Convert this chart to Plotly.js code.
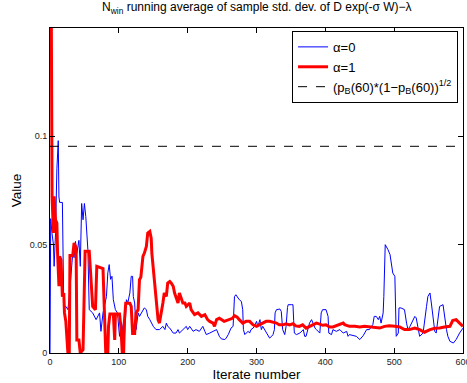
<!DOCTYPE html>
<html>
<head>
<meta charset="utf-8">
<script src="https://cdn.plot.ly/plotly-3.0.1.min.js"></script>
<style>
  html, body { margin: 0; padding: 0; background: #fff; }
  #chart { width: 467px; height: 383px; }
</style>
</head>
<body>
<div id="chart"></div>
<script>
// alpha = 0 (thin blue)
const blueIter = [0,1,3,5,6,8,10,12,13,14,18,19,20,23,26,28,31,33,35,37,39,42,44,46,48,50,52,55,57,62,67,72,74,77,82,84,86,88,90,92,95,98,101,104,108,111,113,116,118,120,121,123,125,128,130,133,135,137,140,142,145,147,150,154,159,164,167,169,171,174,179,183,186,188,193,198,200,203,208,212,217,222,225,227,232,237,242,246,249,254,256,259,261,263,266,268,270,273,275,278,280,281,283,285,288,290,292,295,297,300,302,305,307,309,312,314,317,319,322,324,326,327,329,334,336,338,341,343,345,346,351,353,354,355,358,363,368,370,372,375,377,380,382,385,387,392,394,396,401,404,405,409,411,416,421,426,431,433,435,440,445,450,455,460,464,469,471,474,477,479,481,484,485,487,489,491,494,496,498,501,502,503,506,507,510,515,518,520,523,525,527,530,532,535,537,542,544,547,549,552,554,557,559,561,564,566,571,573,576,578,581,586,590,595,598,600];
const blueVal = [0,0.062,0.055,0.05,0.040,0.055,0.085,0.098,0.072,0.0695,0.0695,0.03,0.0215,0.0215,0.020,0.026,0.037,0.046,0.044,0.0515,0.046,0.052,0.040,0.069,0.0615,0.069,0.063,0.0477,0.020,0.0185,0.0154,0.0185,0.010,0.0185,0.026,0.037,0.0408,0.034,0.0354,0.0246,0.020,0.0185,0.0077,0.014,0.0061,0.0246,0.0231,0.0277,0.0354,0.0354,0.0261,0.0231,0.0108,0.0185,0.0169,0.0185,0.020,0.0208,0.020,0.0169,0.0154,0.0138,0.0123,0.0108,0.0108,0.0123,0.0108,0.0138,0.0123,0.0115,0.0092,0.0092,0.0108,0.0092,0.0108,0.0123,0.0108,0.0123,0.0100,0.0108,0.0100,0.0123,0.0100,0.0085,0.0092,0.0100,0.0108,0.0077,0.0065,0.0062,0.0069,0.0085,0.010,0.0115,0.0123,0.026,0.0269,0.0254,0.0246,0.0238,0.020,0.0108,0.0085,0.0092,0.010,0.0092,0.0108,0.0115,0.0123,0.0146,0.0123,0.0154,0.0108,0.0123,0.0108,0.0092,0.0077,0.0069,0.0077,0.0085,0.0108,0.0185,0.020,0.0203,0.0192,0.0108,0.0085,0.0123,0.021,0.0223,0.0223,0.0223,0.015,0.0092,0.0085,0.0092,0.0108,0.0077,0.0077,0.0108,0.0138,0.0154,0.0138,0.0115,0.0108,0.0092,0.0185,0.020,0.020,0.0169,0.0092,0.0085,0.0108,0.0100,0.0108,0.0092,0.0100,0.0077,0.0085,0.008,0.0077,0.0062,0.008,0.0108,0.0108,0.0131,0.0169,0.0169,0.0154,0.0169,0.0138,0.0185,0.0261,0.050,0.049,0.0477,0.0454,0.0415,0.0369,0.0354,0.0138,0.0077,0.0092,0.0208,0.0208,0.020,0.0138,0.0108,0.0123,0.0138,0.0154,0.0169,0.0162,0.0108,0.0077,0.0092,0.0154,0.0215,0.0261,0.0277,0.0231,0.0154,0.010,0.0092,0.0185,0.0215,0.0223,0.0169,0.0108,0.0077,0.0054,0.0046,0.0062,0.0092,0.0108,0.0115];

// alpha = 1 (thick red)
const redIter = [0,3,5,6,8,10,11,13,14,16,18,20,21,23,26,28,29,33,35,37,38,39,42,44,48,51,57,60,62,66,68,77,79,81,84,85,87,92,94,95,101,103,105,107,108,110,116,118,120,123,125,128,130,132,135,137,140,142,145,147,148,150,152,154,157,159,162,164,166,169,171,174,176,179,181,183,186,188,191,193,196,198,203,205,210,215,220,225,229,232,237,239,242,246,253,261,265,268,272,275,280,285,290,295,300,304,309,314,319,324,329,333,338,343,348,353,357,362,367,372,377,382,387,392,396,401,406,411,416,421,426,428,435,443,450,457,464,472,479,486,493,501,508,515,522,530,537,544,552,559,566,573,581,585,590,595,600];
const redVal = [0.3,0.072,0.0554,0.0723,0.0615,0.060,0.046,0.0308,0.0446,0.043,0.026,0.0277,0.0185,0.0146,0,0,0.045,0.045,0.0508,0.0492,0.046,0.006,0.006,0,0.0015,0.047,0.047,0.0323,0.0215,0.020,0.040,0.039,0.020,0,0,0.0123,0.018,0.018,0.006,0.018,0.018,0.012,0,0,0.014,0.023,0.023,0.0215,0.009,0.009,0.0185,0.020,0.0338,0.035,0.0446,0.046,0.0492,0.0554,0.0561,0.053,0.046,0.0385,0.031,0.0231,0.0154,0.0138,0.0185,0.0231,0.0277,0.0261,0.0323,0.033,0.0323,0.0308,0.0277,0.0261,0.0231,0.0277,0.025,0.0231,0.0231,0.0215,0.0231,0.020,0.0177,0.0185,0.0169,0.0177,0.0154,0.0146,0.0138,0.0123,0.0154,0.0160,0.0146,0.0154,0.016,0.0172,0.0165,0.0154,0.0138,0.0146,0.0146,0.013,0.0123,0.013,0.0138,0.0146,0.0146,0.0143,0.0138,0.013,0.013,0.0135,0.013,0.0135,0.0125,0.0123,0.013,0.0115,0.0123,0.013,0.0138,0.0133,0.0128,0.013,0.012,0.012,0.0125,0.013,0.0138,0.0131,0.0123,0.0123,0.012,0.0123,0.012,0.0115,0.0115,0.0123,0.0126,0.0123,0.012,0.0108,0.0108,0.0115,0.0108,0.0096,0.0108,0.0114,0.0115,0.012,0.0123,0.015,0.0154,0.0138,0.0123];

// reference level (p_B(60)*(1-p_B(60)))^(1/2)
const refIter = [0, 600];
const refLevel = 0.0954;

const xTicks = [0, 100, 200, 300, 400, 500, 600];
const yTicks = [0, 0.05, 0.1];
const yTickText = ['0', '0.05', '0.1'];

const font = 'Liberation Sans, Arial, Helvetica, sans-serif';

const traces = [
  { x: blueIter, y: blueVal, type: 'scatter', mode: 'lines', name: 'α=0',
    line: { color: 'rgb(0,0,255)', width: 1 } },
  { x: redIter, y: redVal, type: 'scatter', mode: 'lines', name: 'α=1',
    line: { color: 'rgb(255,0,0)', width: 3 } },
  { x: refIter, y: [refLevel, refLevel], type: 'scatter', mode: 'lines',
    name: '(p<sub>B</sub>(60)*(1−p<sub>B</sub>(60))<sup>1/2</sup>',
    line: { color: 'black', width: 1, dash: 'dash' } }
];

const axisCommon = {
  showline: true, linecolor: 'black', linewidth: 1, mirror: 'ticks',
  ticks: 'inside', ticklen: 5, tickcolor: 'black', tickwidth: 1,
  showgrid: false, zeroline: false,
  ticklabeloverflow: 'allow',
  tickfont: { family: font, size: 9, color: '#222' }
};

const layout = {
  width: 467, height: 383,
  margin: { l: 50, r: 4, t: 28, b: 30 },
  paper_bgcolor: 'white', plot_bgcolor: 'white',
  font: { family: font, color: 'black' },
  showlegend: true,
  title: {
    text: 'N<sub>win</sub> running average of sample std. dev. of D exp(-σ W)−λ',
    font: { family: font, size: 12, color: 'black' },
    x: 0.55, xanchor: 'center', xref: 'container', y: 0.992, yanchor: 'top'
  },
  xaxis: Object.assign({}, axisCommon, {
    range: [0, 600], tickvals: xTicks,
    title: { text: 'Iterate number', font: { family: font, size: 13.5 }, standoff: 1 }
  }),
  yaxis: Object.assign({}, axisCommon, {
    range: [0, 0.15], tickvals: yTicks, ticktext: yTickText,
    title: { text: 'Value', font: { family: font, size: 13.5 }, standoff: 4 }
  }),
  legend: {
    x: 0.988, xanchor: 'right', y: 0.991, yanchor: 'top',
    bgcolor: 'white', bordercolor: 'black', borderwidth: 1,
    font: { family: font, size: 13, color: 'black' },
    tracegroupgap: 0
  }
};

Plotly.newPlot('chart', traces, layout, { staticPlot: true, displayModeBar: false });
</script>
</body>
</html>
